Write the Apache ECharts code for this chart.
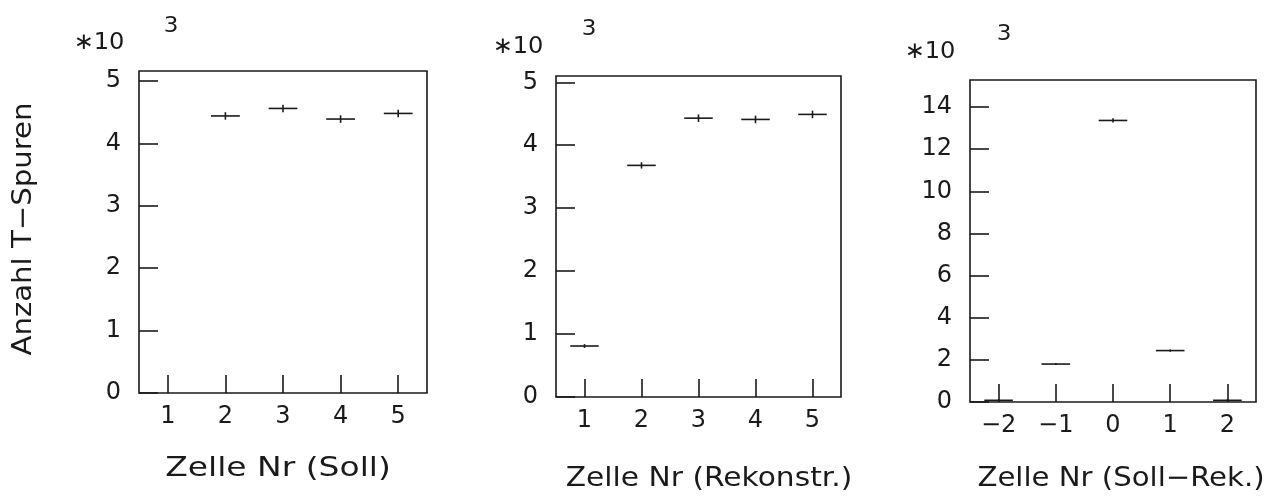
<!DOCTYPE html>
<html>
<head>
<meta charset="utf-8">
<script src="https://cdn.jsdelivr.net/npm/echarts@6/dist/echarts.min.js"></script>
<style>
html,body{margin:0;padding:0;background:#fff;}
#chart{width:1267px;height:499px;}
</style>
</head>
<body>
<div id="chart"></div>
<script>
// ---- data ----
const cellsSoll = [1, 2, 3, 4, 5];
const countsSoll = [null, 4.44, 4.56, 4.39, 4.48];      // x10^3
const errSoll = [0, 0.06, 0.06, 0.06, 0.06];

const cellsRek = [1, 2, 3, 4, 5];
const countsRek = [0.81, 3.68, 4.43, 4.41, 4.49];       // x10^3
const errRek = [0.03, 0.05, 0.06, 0.06, 0.06];

const cellsDiff = [-2, -1, 0, 1, 2];
const countsDiff = [0.08, 1.80, 13.36, 2.44, 0.08];     // x10^3
const errDiff = [0.05, 0.05, 0.10, 0.05, 0.05];

const yTicksSoll = [0, 1, 2, 3, 4, 5];
const yTicksRek = [0, 1, 2, 3, 4, 5];
const yTicksDiff = [0, 2, 4, 6, 8, 10, 12, 14];

const xTitles = ['Zelle Nr (Soll)', 'Zelle Nr (Rekonstr.)', 'Zelle Nr (Soll\u2212Rek.)'];
const yTitle = 'Anzahl T\u2212Spuren';
const expBase = '\u221710';
const expPow = '3';

// ---- styling ----
const FONT = 'DejaVu Sans';
const INK = '#1a1a1a';
const HW = 0.25;

function toData(xs, ys, es) {
  return xs.map((x, i) => [x, ys[i] == null ? '-' : ys[i], es[i]]);
}

function renderErr(params, api) {
  const x = api.value(0), y = api.value(1), e = api.value(2);
  if (isNaN(y)) return null;
  const a = api.coord([x - HW, y]), b = api.coord([x + HW, y]);
  const c = api.coord([x, y - e]), d = api.coord([x, y + e]);
  const st = { stroke: INK, lineWidth: 1.6 };
  return {
    type: 'group',
    children: [
      { type: 'line', shape: { x1: a[0], y1: a[1], x2: b[0], y2: b[1] }, style: st },
      { type: 'line', shape: { x1: c[0], y1: c[1], x2: d[0], y2: d[1] }, style: st }
    ]
  };
}

const grids = [
  { left: 139, top: 71, width: 288, height: 322 },
  { left: 556, top: 76, width: 285, height: 321 },
  { left: 970, top: 80, width: 286, height: 322 }
];

const xRanges = [[0.5, 5.5, cellsSoll], [0.5, 5.5, cellsRek], [-2.5, 2.5, cellsDiff]];
const yRanges = [[0, 5.16, yTicksSoll], [0, 5.1, yTicksRek], [0, 15.28, yTicksDiff]];

const labelStyle = { fontFamily: FONT, fontSize: 24, color: INK, fontWeight: 'normal' };

function txt(x, y, text, size, sx, extra) {
  return Object.assign({
    type: 'text', x: x, y: y, scaleX: sx, scaleY: 1,
    style: { text: text, font: size + 'px "' + FONT + '"', fill: INK, textAlign: 'center', textVerticalAlign: 'middle' }
  }, extra || {});
}

const option = {
  backgroundColor: '#fff',
  animation: false,
  grid: grids.map(g => Object.assign({ show: true, borderColor: INK, borderWidth: 1.6, backgroundColor: 'transparent' }, g)),
  xAxis: xRanges.map((r, i) => ({
    type: 'value', gridIndex: i, min: r[0], max: r[1],
    axisLine: { show: false, onZero: false },
    splitLine: { show: false },
    axisTick: { show: true, inside: true, length: 18, customValues: r[2], lineStyle: { color: INK, width: 1.6 } },
    axisLabel: Object.assign({ margin: 12, customValues: r[2],
      formatter: v => (v < 0 ? '\u2212' + Math.abs(v) : String(v)) }, labelStyle)
  })),
  yAxis: yRanges.map((r, i) => ({
    type: 'value', gridIndex: i, min: r[0], max: r[1],
    axisLine: { show: false, onZero: false },
    splitLine: { show: false },
    axisTick: { show: true, inside: true, length: 19, customValues: r[2], lineStyle: { color: INK, width: 1.6 } },
    axisLabel: Object.assign({ margin: 18, customValues: r[2] }, labelStyle)
  })),
  series: [
    { type: 'custom', xAxisIndex: 0, yAxisIndex: 0, renderItem: renderErr, data: toData(cellsSoll, countsSoll, errSoll) },
    { type: 'custom', xAxisIndex: 1, yAxisIndex: 1, renderItem: renderErr, data: toData(cellsRek, countsRek, errRek) },
    { type: 'custom', xAxisIndex: 2, yAxisIndex: 2, renderItem: renderErr, data: toData(cellsDiff, countsDiff, errDiff) }
  ],
  graphic: [
    txt(24, 229, yTitle, 27, 1.08, { rotation: Math.PI / 2 }),
    txt(278, 469, xTitles[0], 27, 1.22),
    txt(709, 479, xTitles[1], 27, 1.1),
    txt(1121, 479, xTitles[2], 27, 1.08),
    txt(99, 43, expBase, 23, 1.05),
    txt(171, 27, expPow, 21, 1.1),
    txt(518, 47, expBase, 23, 1.05),
    txt(589, 30, expPow, 21, 1.1),
    txt(930, 52, expBase, 23, 1.05),
    txt(1004, 35, expPow, 21, 1.1)
  ]
};

const chart = echarts.init(document.getElementById('chart'), null, { renderer: 'canvas' });
chart.setOption(option);
</script>
</body>
</html>
